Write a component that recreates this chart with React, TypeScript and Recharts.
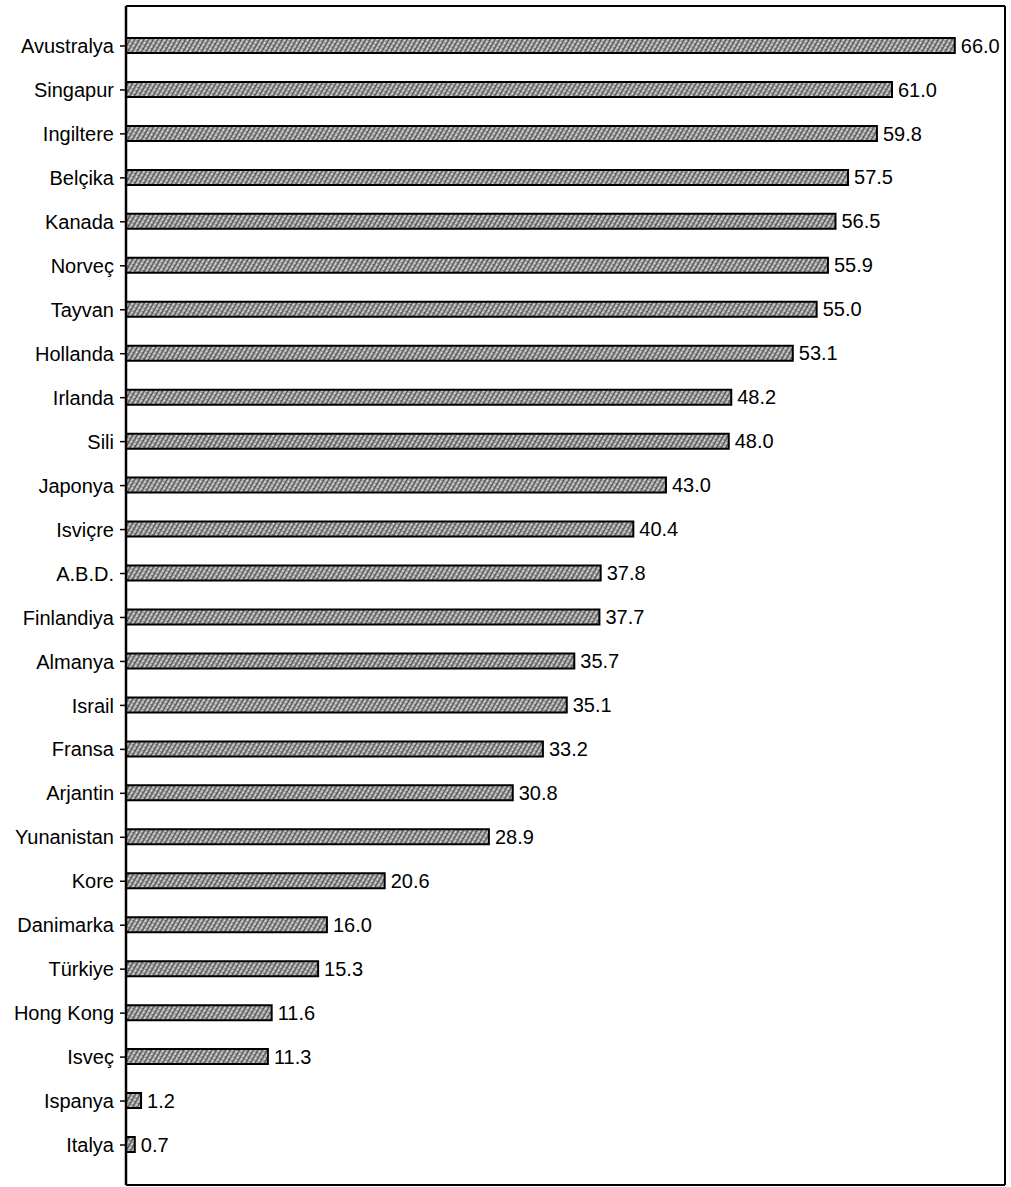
import { BarChart, Bar, XAxis, YAxis, LabelList } from 'recharts';

const countries = [
  'Avustralya', 'Singapur', 'Ingiltere', 'Belçika', 'Kanada', 'Norveç', 'Tayvan',
  'Hollanda', 'Irlanda', 'Sili', 'Japonya', 'Isviçre', 'A.B.D.', 'Finlandiya',
  'Almanya', 'Israil', 'Fransa', 'Arjantin', 'Yunanistan', 'Kore', 'Danimarka',
  'Türkiye', 'Hong Kong', 'Isveç', 'Ispanya', 'Italya',
];

const values = [
  66.0, 61.0, 59.8, 57.5, 56.5, 55.9, 55.0, 53.1, 48.2, 48.0, 43.0, 40.4, 37.8,
  37.7, 35.7, 35.1, 33.2, 30.8, 28.9, 20.6, 16.0, 15.3, 11.6, 11.3, 1.2, 0.7,
];

const xDomain = [0, 70];

const data = countries.map((name, i) => ({ name, value: values[i] }));

const font = 'Arial, "Liberation Sans", sans-serif';

export default function App() {
  return (
    <div style={{ position: 'absolute', left: 0, top: 0, background: '#fff' }}>
      <BarChart
        width={1011}
        height={1187}
        data={data}
        layout="vertical"
        margin={{ top: 5, right: 5, bottom: 1, left: 0 }}
        barCategoryGap={0}
      >
        <defs>
          <pattern id="hatch" width="4" height="4" patternUnits="userSpaceOnUse" patternTransform="rotate(30)">
            <rect width="4" height="4" fill="#a4a4a4" />
            <rect width="1" height="4" fill="#505050" />
            <rect x="2" width="1" height="2" fill="#e0e0e0" />
            <rect x="3" y="2" width="1" height="1" fill="#6a6a6a" />
          </pattern>
        </defs>
        <XAxis
          type="number"
          domain={xDomain}
          height={1}
          tick={false}
          tickLine={false}
          axisLine={{ stroke: '#000', strokeWidth: 2 }}
        />
        <XAxis
          type="number"
          domain={xDomain}
          xAxisId="top"
          orientation="top"
          height={1}
          tick={false}
          tickLine={false}
          axisLine={{ stroke: '#000', strokeWidth: 2 }}
        />
        <YAxis
          type="category"
          dataKey="name"
          width={126}
          padding={{ top: 18, bottom: 18 }}
          tickSize={6}
          tickMargin={6}
          interval={0}
          tick={{ fill: '#000', fontSize: 20, fontFamily: font }}
          tickLine={{ stroke: '#000', strokeWidth: 1.5 }}
          axisLine={{ stroke: '#000', strokeWidth: 2.5 }}
        />
        <YAxis
          type="category"
          dataKey="name"
          yAxisId="right"
          orientation="right"
          width={1}
          tick={false}
          tickLine={false}
          axisLine={{ stroke: '#000', strokeWidth: 2 }}
        />
        <Bar
          dataKey="value"
          fill="url(#hatch)"
          stroke="#000"
          strokeWidth={2}
          barSize={15}
          isAnimationActive={false}
        >
          <LabelList
            dataKey="value"
            position="right"
            offset={6}
            formatter={(v: number) => v.toFixed(1)}
            style={{ fill: '#000', fontSize: 20, fontFamily: font }}
          />
        </Bar>
      </BarChart>
    </div>
  );
}
